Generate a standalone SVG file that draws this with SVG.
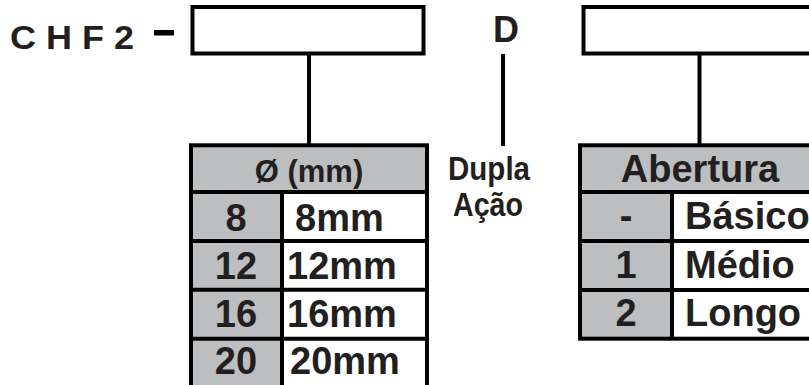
<svg xmlns="http://www.w3.org/2000/svg" width="809" height="385" viewBox="0 0 809 385">
  <style>
    text { font-family: "Liberation Sans", Arial, sans-serif; font-weight: bold; fill: #231f20; }
    .frame { fill: none; stroke: #000; stroke-width: 4; }
    .grid { stroke: #000; stroke-width: 4; fill: none; }
    .gray { fill: #bcbec0; }
    .white { fill: #fff; }
    .wire { stroke: #000; stroke-width: 4; fill: none; }
    .mid { text-anchor: middle; }
    .cell { font-size: 38px; }
  </style>
  <rect width="809" height="385" fill="#fff"/>

  <!-- model prefix -->
  <g id="prefix">
    <text x="10" y="49" font-size="33" textLength="124" lengthAdjust="spacingAndGlyphs">C H F 2</text>
    <rect x="154" y="30" width="20" height="5.5" fill="#000"/>
  </g>

  <!-- code slot: bore -->
  <g id="slot-bore">
    <rect class="frame" x="192.5" y="7" width="231" height="46.5"/>
  </g>

  <!-- fixed letter D -->
  <g id="code-d">
    <text x="506" y="42.3" font-size="36" class="mid">D</text>
  </g>

  <!-- code slot: opening -->
  <g id="slot-opening">
    <rect class="frame" x="583.5" y="7" width="260" height="46.5"/>
  </g>

  <!-- connectors -->
  <g id="connectors">
    <line class="wire" x1="309" y1="53.5" x2="309" y2="145"/>
    <line class="wire" x1="503" y1="54" x2="503" y2="146"/>
    <line class="wire" x1="699.5" y1="53.5" x2="699.5" y2="145"/>
  </g>

  <!-- bore table -->
  <g id="table-bore">
    <rect class="gray" x="191" y="145.3" width="236" height="250"/>
    <rect class="white" x="282" y="192" width="145" height="205"/>
    <rect class="grid" x="191" y="145.3" width="236" height="242.5"/>
    <line class="grid" x1="191" y1="192" x2="427" y2="192"/>
    <line class="grid" x1="191" y1="241" x2="427" y2="241"/>
    <line class="grid" x1="191" y1="289.7" x2="427" y2="289.7"/>
    <line class="grid" x1="191" y1="338.7" x2="427" y2="338.7"/>
    <line class="grid" x1="282" y1="192" x2="282" y2="390"/>
    <text x="309" y="181.5" font-size="31" class="mid">Ø (mm)</text>
    <text x="236" y="230.5" class="cell mid">8</text>
    <text x="295" y="230.5" class="cell">8mm</text>
    <text x="236" y="278.5" class="cell mid">12</text>
    <text x="287" y="278.5" class="cell">12mm</text>
    <text x="236" y="326.7" class="cell mid">16</text>
    <text x="287" y="326.7" class="cell">16mm</text>
    <text x="236" y="373.5" class="cell mid">20</text>
    <text x="290" y="373.5" class="cell">20mm</text>
  </g>

  <!-- action label -->
  <g id="label-action">
    <text x="448" y="180" font-size="34" textLength="82" lengthAdjust="spacingAndGlyphs">Dupla</text>
    <text x="453" y="216" font-size="34" textLength="70" lengthAdjust="spacingAndGlyphs">Ação</text>
  </g>

  <!-- opening table -->
  <g id="table-opening">
    <rect class="gray" x="580" y="145.3" width="240" height="193.4"/>
    <rect class="white" x="672" y="192" width="148" height="146.7"/>
    <rect class="grid" x="580" y="145.3" width="240" height="193.4"/>
    <line class="grid" x1="580" y1="192" x2="820" y2="192"/>
    <line class="grid" x1="580" y1="241" x2="820" y2="241"/>
    <line class="grid" x1="580" y1="290" x2="820" y2="290"/>
    <line class="grid" x1="672" y1="192" x2="672" y2="338.7"/>
    <text x="700" y="181.5" class="cell mid">Abertura</text>
    <text x="626" y="228.5" class="cell mid">-</text>
    <text x="685" y="228.5" class="cell">Básico</text>
    <text x="626" y="277.5" class="cell mid">1</text>
    <text x="685" y="277.5" class="cell">Médio</text>
    <text x="626" y="325.5" class="cell mid">2</text>
    <text x="685" y="325.5" class="cell">Longo</text>
  </g>
</svg>
